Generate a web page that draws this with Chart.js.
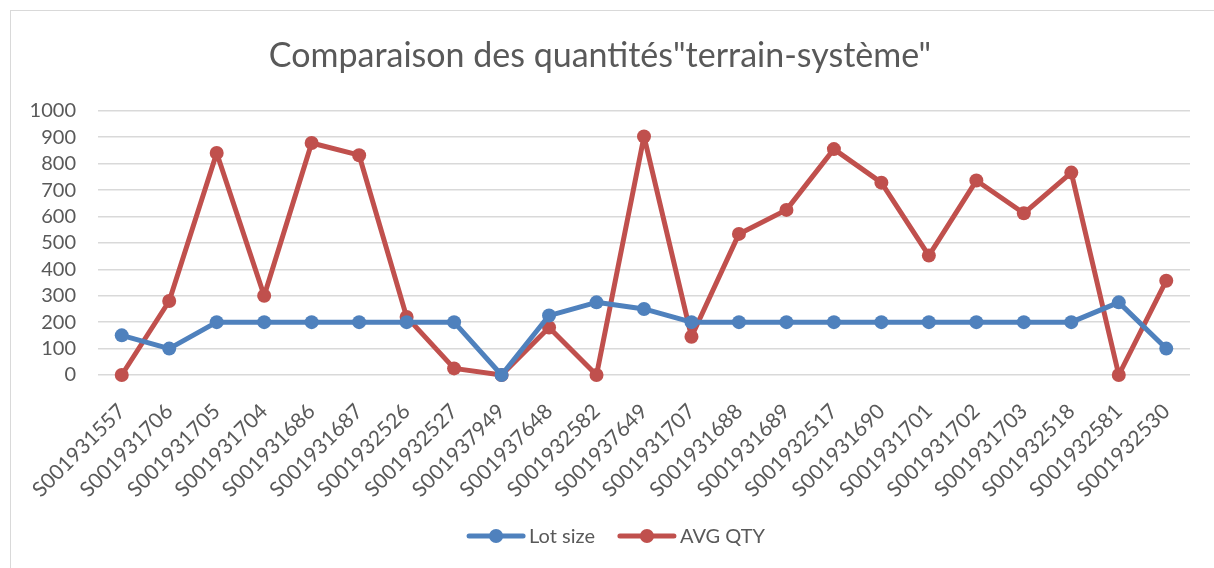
<!DOCTYPE html>
<html>
<head>
<meta charset="utf-8">
<script src="https://cdn.jsdelivr.net/npm/chart.js@4.4.0/dist/chart.umd.min.js"></script>
<style>
  html, body { margin: 0; padding: 0; background: #fff; }
  #frame { position: absolute; left: 10px; top: 10px; width: 1220px; height: 580px; border: 1px solid #D9D9D9; }
  #wrap { position: absolute; left: 0; top: 0; width: 1214px; height: 568px; }
</style>
</head>
<body>
<div id="frame"></div>
<div id="wrap"><canvas id="chart"></canvas></div>
<script>
const categories = ["S001931557", "S001931706", "S001931705", "S001931704", "S001931686", "S001931687",
    "S001932526", "S001932527", "S001937949", "S001937648", "S001932582", "S001937649", "S001931707",
    "S001931688", "S001931689", "S001932517", "S001931690", "S001931701", "S001931702", "S001931703",
    "S001932518", "S001932581", "S001932530"];
const lotSize = [150, 100, 200, 200, 200, 200, 200, 200, 0, 225, 275, 250, 200, 200, 200, 200, 200, 200, 200, 200, 200, 275, 100];
const avgQty = [0, 280, 840, 300, 878, 832, 220, 25, 0, 180, 0, 903, 145, 534, 625, 855, 728, 452, 736, 612, 766, 0, 357];
const yTicks = [0, 100, 200, 300, 400, 500, 600, 700, 800, 900, 1000];

const FONT = "Lato";
const TEXT_COLOR = "#595959";

// legende: linie + kreis wie in Excel
const lineLegend = {
    id: "lineLegend",
    afterDraw(chart) {
        const ctx = chart.ctx;
        ctx.save();
        ctx.font = "20px " + FONT;
        ctx.textBaseline = "middle";
        const lineLen = 54, gap = 6, itemGap = 25;
        const items = chart.data.datasets.map(ds => ({
            ds: ds,
            w: lineLen + gap + ctx.measureText(ds.label).width
        }));
        const total = items.reduce((s, it) => s + it.w, 0) + itemGap * (items.length - 1);
        let x = 617 - total / 2;
        const y = 536;
        items.forEach(it => {
            ctx.strokeStyle = it.ds.borderColor;
            ctx.lineWidth = 5;
            ctx.lineCap = "round";
            ctx.beginPath();
            ctx.moveTo(x, y);
            ctx.lineTo(x + lineLen, y);
            ctx.stroke();
            ctx.fillStyle = it.ds.borderColor;
            ctx.beginPath();
            ctx.arc(x + lineLen / 2, y, 7, 0, Math.PI * 2);
            ctx.fill();
            ctx.fillStyle = TEXT_COLOR;
            ctx.fillText(it.ds.label, x + lineLen + gap, y + 1);
            x += it.w + itemGap;
        });
        ctx.restore();
    }
};

const seriesStyle = color => ({
    borderColor: color,
    backgroundColor: color,
    borderWidth: 5,
    borderJoinStyle: "round",
    borderCapStyle: "round",
    pointRadius: 7,
    pointHoverRadius: 7,
    pointBorderWidth: 0,
    tension: 0,
    clip: false
});

new Chart(document.getElementById("chart"), {
    type: "line",
    data: {
        labels: categories,
        datasets: [
            Object.assign({ label: "Lot size", data: lotSize }, seriesStyle("#4F81BD")),
            Object.assign({ label: "AVG QTY", data: avgQty }, seriesStyle("#C0504D"))
        ]
    },
    options: {
        responsive: true,
        maintainAspectRatio: false,
        animation: false,
        layout: { padding: { left: 10, right: 24, top: 10, bottom: 20 } },
        plugins: {
            legend: { display: false },
            tooltip: { enabled: false },
            title: {
                display: true,
                text: 'Comparaison des quantités"terrain-système"',
                color: TEXT_COLOR,
                font: { family: FONT, size: 34, weight: "normal" },
                padding: { top: 26, bottom: 34 }
            }
        },
        scales: {
            x: {
                offset: true,
                grid: { display: false, drawTicks: false },
                border: { display: false },
                ticks: {
                    color: TEXT_COLOR,
                    font: { family: FONT, size: 21 },
                    minRotation: 45,
                    maxRotation: 45,
                    autoSkip: false,
                    padding: 24
                },
                afterFit: s => { s.height = 173; }
            },
            y: {
                min: 0,
                max: 1000,
                afterBuildTicks: s => { s.ticks = yTicks.map(v => ({ value: v })); },
                grid: { color: "#D9D9D9", lineWidth: 1.5, drawTicks: false },
                border: { display: false },
                ticks: {
                    color: TEXT_COLOR,
                    font: { family: FONT, size: 20 },
                    padding: 22,
                    autoSkip: false,
                    callback: v => String(v)
                },
                afterFit: s => { s.width = 88; }
            }
        }
    },
    plugins: [lineLegend]
});
</script>
</body>
</html>
